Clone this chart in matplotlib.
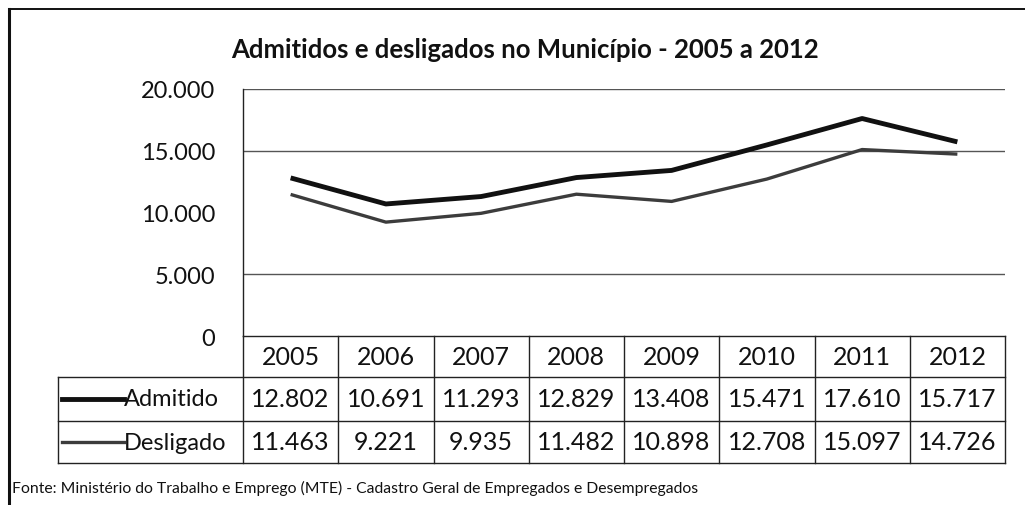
import matplotlib.pyplot as plt
from matplotlib.lines import Line2D
from matplotlib import transforms

# data
years = ['2005', '2006', '2007', '2008', '2009', '2010', '2011', '2012']
admitido = [12802, 10691, 11293, 12829, 13408, 15471, 17610, 15717]
desligado = [11463, 9221, 9935, 11482, 10898, 12708, 15097, 14726]
series_names = ['Admitido', 'Desligado']
y_ticks = [0, 5000, 10000, 15000, 20000]
grid_ticks = [5000, 15000, 20000]   # the 10.000 line is not visible on the scan
title = 'Admitidos e desligados no Município - 2005 a 2012'
fonte = ('Fonte: Ministério do Trabalho e Emprego (MTE) - Cadastro Geral de '
         'Empregados e Desempregados')

plt.rcParams['font.family'] = ['Lato', 'DejaVu Sans']

W, H = 1025, 506
fig = plt.figure(figsize=(W / 100, H / 100), dpi=100)


def fx(px):
    return px / W


def fy(py):
    return 1 - py / H


def fmt(v):
    return f'{v:,}'.replace(',', '.')


# plot area
left, right, top, bottom = 243, 1005, 90, 337
ax = fig.add_axes([fx(left), fy(bottom), fx(right) - fx(left), fy(top) - fy(bottom)])
x = list(range(len(years)))
ax.set_xlim(-0.5, len(years) - 0.5)
ax.set_ylim(0, 20000)
ax.plot(x, admitido, color='#111111', lw=3.5, solid_capstyle='butt', zorder=3)
ax.plot(x, desligado, color='#3c3c3c', lw=2.4, solid_capstyle='butt', zorder=3)
for g in grid_ticks:
    ax.axhline(g, color='#555555', lw=1.0, zorder=1)
ax.set_yticks(y_ticks)
ax.set_yticklabels([fmt(v) for v in y_ticks], fontsize=17, color='#111111')
ax.tick_params(axis='y', length=0, pad=20)
ax.set_xticks([])
for s in ['top', 'right', 'bottom']:
    ax.spines[s].set_visible(False)
ax.spines['left'].set_color('#222222')
ax.spines['left'].set_linewidth(1.0)

# data table under the plot, columns aligned with the x data
trans = transforms.blended_transform_factory(ax.transData, fig.transFigure)
rows = [337, 378, 422, 464]
label_left = 58
lc = '#222222'
n = len(years)
edges = [i - 0.5 for i in range(n + 1)]
tsize = 18


def hline(y, x0_fig):
    fig.add_artist(Line2D([x0_fig, fx(right)], [fy(y), fy(y)],
                          transform=fig.transFigure, color=lc, lw=1.0))


fig.add_artist(Line2D([edges[0], edges[-1]], [fy(rows[0]), fy(rows[0])],
                      transform=trans, color=lc, lw=1.0))
for y in rows[1:]:
    hline(y, fx(label_left))
for e in edges:
    fig.add_artist(Line2D([e, e], [fy(rows[0]), fy(rows[-1])],
                          transform=trans, color=lc, lw=1.0))
fig.add_artist(Line2D([fx(label_left), fx(label_left)], [fy(rows[1]), fy(rows[-1])],
                      transform=fig.transFigure, color=lc, lw=1.0))

# header row with years
yc = (rows[0] + rows[1]) / 2
for i, yr in enumerate(years):
    fig.text(i, fy(yc), yr, transform=trans, ha='center', va='center',
             fontsize=tsize, color='#111111')

# series rows
styles = [('#111111', 3.5), ('#3c3c3c', 2.4)]
for r, (name, vals) in enumerate(zip(series_names, [admitido, desligado])):
    yc = (rows[r + 1] + rows[r + 2]) / 2
    col, lw = styles[r]
    fig.add_artist(Line2D([fx(62), fx(124)], [fy(yc), fy(yc)],
                          transform=fig.transFigure, color=col, lw=lw))
    fig.text(fx(124), fy(yc), name, ha='left', va='center', fontsize=17, color='#111111')
    for i, v in enumerate(vals):
        fig.text(i, fy(yc), fmt(v), transform=trans, ha='center', va='center',
                 fontsize=tsize, color='#111111')

# title and source
fig.text(fx(525), fy(50), title, ha='center', va='center', fontsize=18.5,
         fontweight='bold', color='#111111')
fig.text(fx(12), fy(488), fonte, ha='left', va='center', fontsize=11.3, color='#111111')

# outer frame (left and top edges visible on the scan)
fig.add_artist(Line2D([fx(9), fx(9)], [fy(10), 0], transform=fig.transFigure,
                      color='#111111', lw=2.2))
fig.add_artist(Line2D([fx(9), 1], [fy(10), fy(10)], transform=fig.transFigure,
                      color='#111111', lw=1.4))

fig.savefig('out.png', dpi=100)
